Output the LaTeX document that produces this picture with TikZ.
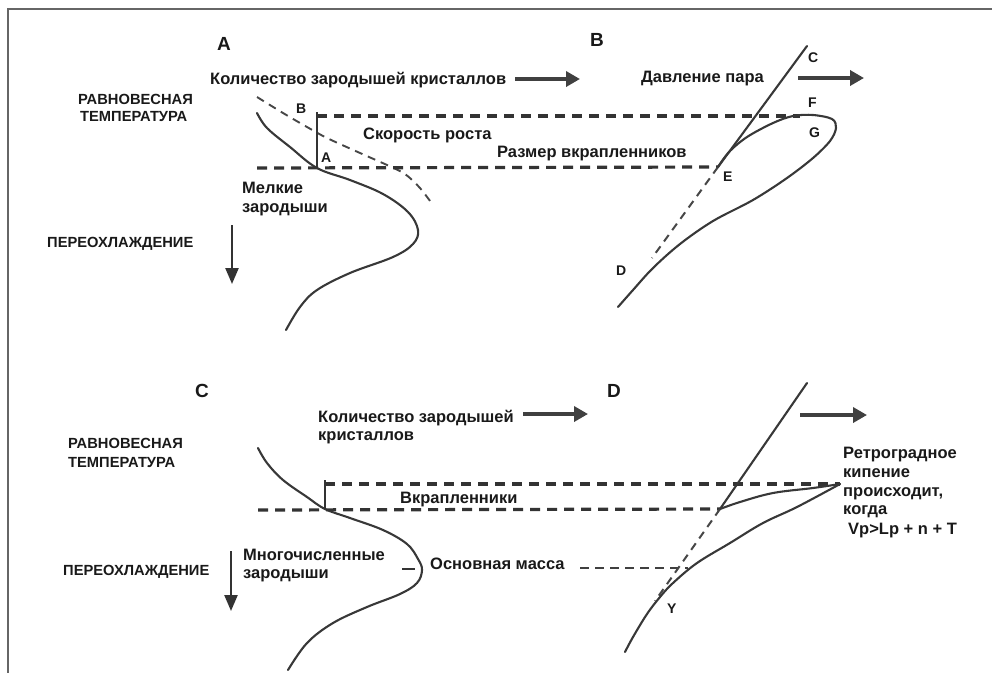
\documentclass[tikz,border=0pt]{standalone}
\usepackage{fontspec}
\setmainfont{Liberation Sans}
\usetikzlibrary{arrows.meta}
\begin{document}
\begin{tikzpicture}[x=1pt,y=-1pt,
  txt/.style={font=\bfseries\fontsize{16.5}{19}\selectfont, inner sep=0pt, anchor=base west, text=black!90},
  capt/.style={font=\bfseries\fontsize{14.7}{18}\selectfont, inner sep=0pt, anchor=base west, text=black!90},
  ptl/.style={font=\bfseries\fontsize{14}{16}\selectfont, inner sep=0pt, anchor=base west, text=black!90},
  panel/.style={font=\bfseries\fontsize{19}{22}\selectfont, inner sep=0pt, anchor=base west, text=black!90},
  curve/.style={draw=black!78, line width=2.1pt, line cap=round},
  thinline/.style={draw=black!80, line width=1.7pt},
  dashln/.style={draw=black!80, line width=3.2pt, dash pattern=on 10pt off 7pt},
  thindash/.style={draw=black!72, line width=1.9pt, dash pattern=on 8pt off 6pt},
  harrow/.style={draw=black!75, line width=3.6pt, -{Triangle[length=14pt,width=15pt]}},
  varrow/.style={draw=black!80, line width=2.4pt, -{Triangle[length=16pt,width=13pt]}}
]
\useasboundingbox (0,0) rectangle (992,673);
\draw[black!60, line width=2pt] (992,8.5) -- (7.5,8.5) -- (7.5,673);

% ================= Panel A =================
\node[panel] (lblA) at (217,50) {A};
\node[txt] (cntA) at (210,84) {Количество зародышей кристаллов};
\coordinate (arA1) at (515,79); \coordinate (arA2) at (580,79);
\draw[harrow] (arA1) -- (arA2);
\node[capt] (eqA1) at (78,104) {РАВНОВЕСНАЯ};
\node[capt] (eqA2) at (80,121) {ТЕМПЕРАТУРА};
\node[capt] (scA) at (47,247) {ПЕРЕОХЛАЖДЕНИЕ};
\coordinate (dnA1) at (232,225); \coordinate (dnA2) at (232,284);
\draw[varrow] (dnA1) -- (dnA2);

% nucleation curve
\draw[curve] plot[smooth, tension=0.6] coordinates {(257,113) (267,128) (290,147) (317,168) (350,180) (383,194) (408,212) (418,230) (413,244) (393,257) (350,273) (317,290) (300,307) (286,330)};
% growth rate dashed curve
\draw[thindash] plot[smooth] coordinates {(257,97) (283,113) (307,127) (327,138) (360,153) (387,165) (405,174) (420,188) (433,205)};

\coordinate (ptA) at (317,168);
\coordinate (ptB) at (317,112);
\coordinate (ptE) at (718,167);
\coordinate (ptF) at (800,116);
\coordinate (lowA0) at (257,168);
\draw[thinline] (ptA) -- (ptB);
\draw[dashln] (ptB |- ptF) -- (ptF);
\draw[dashln] (lowA0) -- (ptE);

\node[ptl] (labB) at (296,113) {B};
\node[ptl] (labA) at (321,162) {A};
\node[txt] (rate) at (363,139) {Скорость роста};
\node[txt] (size) at (497,157) {Размер вкрапленников};
\node[txt] (small1) at (242,193) {Мелкие};
\node[txt] (small2) at (242,212) {зародыши};

% ================= Panel B =================
\node[panel] (lblB) at (590,46) {B};
\node[txt] (vap) at (641,82) {Давление пара};
\coordinate (arB1) at (798,78); \coordinate (arB2) at (864,78);
\draw[harrow] (arB1) -- (arB2);
\coordinate (ptC) at (807,46);
\coordinate (ptD) at (652,258);
\draw[curve] (ptC) -- (ptE);
\draw[thindash, line width=2pt] (ptE) -- (ptD);
% loop curve
\draw[curve] plot[smooth, tension=0.55] coordinates {(618,307) (633,290) (653,268) (680,244) (713,221) (753,200) (787,178) (813,158) (830,141) (836,128) (832,119) (813,115) (793,116) (773,123) (747,137) (729,152) (718,167)};

\node[ptl] (labC) at (808,62) {C};
\node[ptl] (labF) at (808,107) {F};
\node[ptl] (labG) at (809,137) {G};
\node[ptl] (labE) at (723,181) {E};
\node[ptl] (labD) at (616,275) {D};

% ================= Panel C =================
\node[panel] (lblC) at (195,397) {C};
\node[txt] (cntC1) at (318,422) {Количество зародышей};
\node[txt] (cntC2) at (318,440) {кристаллов};
\coordinate (arC1) at (523,414); \coordinate (arC2) at (588,414);
\draw[harrow] (arC1) -- (arC2);
\node[capt] (eqC1) at (68,448) {РАВНОВЕСНАЯ};
\node[capt] (eqC2) at (68,467) {ТЕМПЕРАТУРА};
\node[capt] (scC) at (63,575) {ПЕРЕОХЛАЖДЕНИЕ};
\coordinate (dnC1) at (231,551); \coordinate (dnC2) at (231,611);
\draw[varrow] (dnC1) -- (dnC2);
\node[txt] (many1) at (243,560) {Многочисленные};
\node[txt] (many2) at (243,578) {зародыши};

\draw[curve] plot[smooth, tension=0.6] coordinates {(258,448) (267,463) (283,480) (307,497) (325,509) (350,518) (383,530) (407,544) (418,559) (422,570) (417,583) (400,594) (367,607) (333,623) (307,643) (288,670)};

\coordinate (cA) at (325,509);
\coordinate (cB) at (325,480);
\coordinate (cUp) at (840,484);
\coordinate (cLow0) at (258,510);
\coordinate (cE) at (720,509);
\draw[thinline] (cA) -- (cB);
\draw[dashln] (cB |- cUp) -- (cUp);
\draw[dashln] (cLow0) -- (cE);
\node[txt] (phen) at (400,503) {Вкрапленники};
\coordinate (gm1) at (402,569); \coordinate (gm2) at (415,569);
\draw[black!80, line width=2.6pt] (gm1) -- (gm2);
\node[txt] (mass) at (430,569) {Основная масса};
\coordinate (gm3) at (580,568); \coordinate (gm4) at (688,568);
\draw[black!75, line width=2.4pt, dash pattern=on 9pt off 6pt] (gm3) -- (gm4);

% ================= Panel D =================
\node[panel] (lblD) at (607,397) {D};
\coordinate (arD1) at (800,415); \coordinate (arD2) at (867,415);
\draw[harrow] (arD1) -- (arD2);
\coordinate (dTop) at (807,383);
\coordinate (dJoin) at (655,601);
\draw[curve] (dTop) -- (cE);
\draw[thindash, line width=2pt] (cE) -- (dJoin);
\draw[curve] plot[smooth, tension=0.6] coordinates {(cUp) (813,488) (773,493) (740,502) (cE)};
\draw[curve] plot[smooth, tension=0.6] coordinates {(cUp) (797,507) (763,523) (730,543) (697,563) (673,583) (660,597) (647,614) (633,637) (625,652)};
\node[ptl] (labY) at (667,613) {Y};

\node[txt] (ret1) at (843,458) {Ретроградное};
\node[txt] (ret2) at (843,477) {кипение};
\node[txt] (ret3) at (843,496) {происходит,};
\node[txt] (ret4) at (843,514) {когда};
\node[txt] (ret5) at (848,534) {Vp>Lp + n + T};
\end{tikzpicture}
\end{document}
